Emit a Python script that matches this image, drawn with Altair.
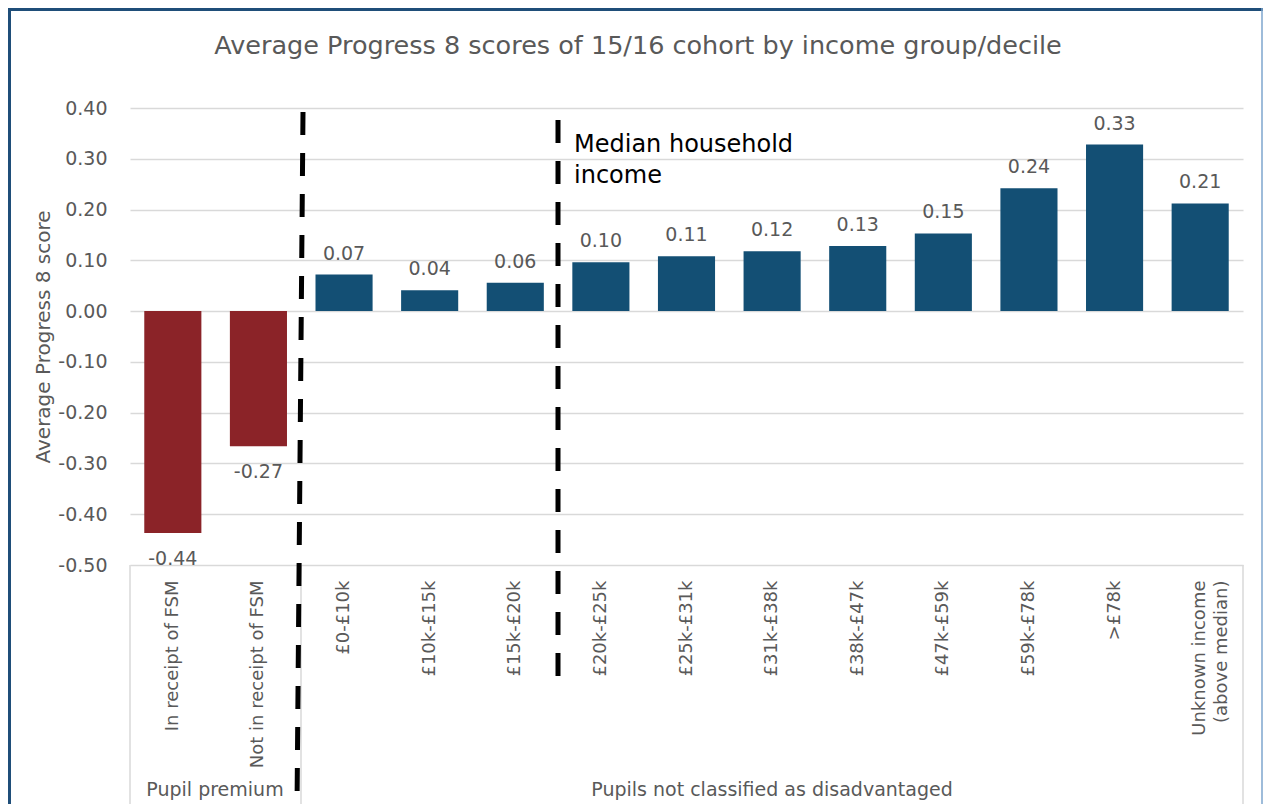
import altair as alt
import pandas as pd

categories = ["In receipt of FSM", "Not in receipt of FSM", "£0-£10k", "£10k-£15k",
              "£15k-£20k", "£20k-£25k", "£25k-£31k", "£31k-£38k", "£38k-£47k",
              "£47k-£59k", "£59k-£78k", ">£78k", "Unknown income|(above median)"]
scores = [-0.437, -0.266, 0.072, 0.041, 0.056, 0.096, 0.108, 0.118, 0.128,
          0.153, 0.242, 0.328, 0.212]
group_names = ["Pupil premium", "Pupils not classified as disadvantaged"]
groups = [group_names[0]] * 2 + [group_names[1]] * 11
bar_colors = ["#8B2328", "#134F74"]
tick_values = [-0.5, -0.4, -0.3, -0.2, -0.1, 0.0, 0.1, 0.2, 0.3, 0.4]

title_text = "Average Progress 8 scores of 15/16 cohort by income group/decile"
y_title = "Average Progress 8 score"
median_text = ["Median household", "income"]

FONT = "DejaVu Sans"
GREY = "#595959"
W, H = 1113, 457

df = pd.DataFrame({"category": categories, "score": scores, "group": groups})
one = pd.DataFrame({"a": [0]})

x_enc = alt.X("category:N", sort=None,
              scale=alt.Scale(paddingInner=0.333, paddingOuter=0.1667),
              axis=alt.Axis(title=None, labelAngle=270, labelFont=FONT, labelFontSize=18,
                            labelColor=GREY, labelPadding=15, ticks=False, domain=False,
                            labelLimit=400, labelExpr="split(datum.label, '|')",
                            labelLineHeight=22, grid=False))
y_enc = alt.Y("score:Q",
              scale=alt.Scale(domain=[-0.5, 0.4], nice=False, zero=False),
              axis=alt.Axis(values=tick_values,
                            labelExpr="replace(format(datum.value, '.2f'), '\u2212', '-')",
                            title=y_title,
                            titleFont=FONT, titleFontSize=20, titleFontWeight="normal",
                            titleColor=GREY, titlePadding=4,
                            labelFont=FONT, labelFontSize=19, labelColor=GREY,
                            labelPadding=23, ticks=False, domain=False, grid=True,
                            gridColor="#d9d9d9", gridWidth=1.5))

base = alt.Chart(df).transform_calculate(
    label="replace(format(datum.score, '.2f'), '\u2212', '-')")
bars = base.mark_bar().encode(
    x=x_enc, y=y_enc,
    color=alt.Color("group:N", scale=alt.Scale(domain=group_names, range=bar_colors), legend=None),
)
pos_labels = base.transform_filter("datum.score >= 0").mark_text(
    dy=-15, baseline="alphabetic", font=FONT, fontSize=19, color=GREY
).encode(x=x_enc, y=y_enc, text="label:N")
neg_labels = base.transform_filter("datum.score < 0").mark_text(
    dy=32, baseline="alphabetic", font=FONT, fontSize=19, color=GREY
).encode(x=x_enc, y=y_enc, text="label:N")

deco = alt.Chart(one)
box_color = "#d9d9d9"
box_left = deco.mark_rule(color=box_color, strokeWidth=1.5).encode(
    x=alt.value(0), y=alt.value(H), y2=alt.value(700))
box_right = deco.mark_rule(color=box_color, strokeWidth=1.5).encode(
    x=alt.value(W), y=alt.value(H), y2=alt.value(700))
box_sep = deco.mark_rule(color=box_color, strokeWidth=1.5).encode(
    x=alt.value(171), y=alt.value(H), y2=alt.value(700))

dash1 = deco.mark_rule(color="black", strokeWidth=5, strokeDash=[23, 18]).encode(
    x=alt.value(173), x2=alt.value(167), y=alt.value(4), y2=alt.value(700))
dash2 = deco.mark_rule(color="black", strokeWidth=5, strokeDash=[23, 18]).encode(
    x=alt.value(428), x2=alt.value(428), y=alt.value(12), y2=alt.value(577))

median = deco.mark_text(text=median_text, align="left", baseline="alphabetic",
                        font=FONT, fontSize=24, lineHeight=31, color="#000000").encode(
    x=alt.value(444), y=alt.value(44))

title = deco.mark_text(text=title_text, align="center", baseline="middle",
                       font=FONT, fontSize=25.5, color=GREY).encode(
    x=alt.value(508), y=alt.value(-62))

grp1 = deco.mark_text(text=group_names[0], align="center", baseline="alphabetic",
                      font=FONT, fontSize=19, color=GREY).encode(
    x=alt.value(85), y=alt.value(688))
grp2 = deco.mark_text(text=group_names[1], align="center", baseline="alphabetic",
                      font=FONT, fontSize=19, color=GREY).encode(
    x=alt.value(642), y=alt.value(688))

frame_top = deco.mark_rule(color="#1F4E79", strokeWidth=3).encode(
    x=alt.value(-122), x2=alt.value(1133), y=alt.value(-98.5))
frame_left = deco.mark_rule(color="#1F4E79", strokeWidth=3).encode(
    x=alt.value(-120.5), y=alt.value(-100), y2=alt.value(700))
frame_right = deco.mark_rule(color="#7EA6CE", strokeWidth=1.5).encode(
    x=alt.value(1132), y=alt.value(-100), y2=alt.value(700))

chart = alt.layer(
    bars, pos_labels, neg_labels, box_left, box_right, box_sep, dash1, dash2,
    median, title, grp1, grp2, frame_top, frame_left, frame_right
).properties(
    width=W, height=H,
    autosize=alt.AutoSizeParams(type="none"),
    padding={"left": 122, "top": 100, "right": 20, "bottom": 239},
    background="white",
).configure_view(stroke=None)

chart.save("out.html", embed_options={"renderer": "svg", "actions": False})
